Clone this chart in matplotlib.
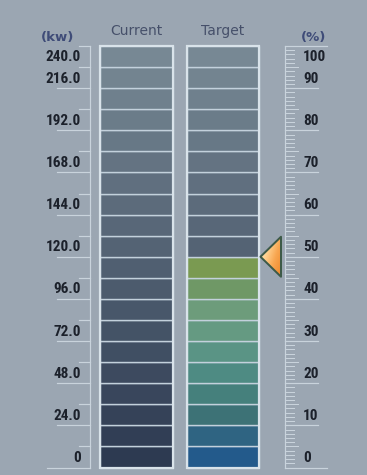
import numpy as np
import matplotlib
matplotlib.use("Agg")
import matplotlib.pyplot as plt
from matplotlib.patches import Rectangle, Polygon
from matplotlib import font_manager
from matplotlib.colors import to_rgb, LinearSegmentedColormap

# ---- data ----
kw_max = 240.0
segment_kw = 12.0
kw_ticks = [0, 24, 48, 72, 96, 120, 144, 168, 192, 216, 240]
kw_labels = ["0", "24.0", "48.0", "72.0", "96.0", "120.0", "144.0",
             "168.0", "192.0", "216.0", "240.0"]
pct_ticks = [0, 10, 20, 30, 40, 50, 60, 70, 80, 90, 100]
pct_labels = ["0", "10", "20", "30", "40", "50", "60", "70", "80", "90", "100"]
columns = ["Current", "Target"]
current_kw = 0.0
target_pct = 50.0

# lit segment colours of the target column, bottom to top
lit_colors = ["#235a8b", "#2f6482", "#3d7276", "#45807c", "#4e8b83",
              "#5a9485", "#659a82", "#6d9c7b", "#6f9866", "#7a9a51"]

# ---- style ----
BG = "#9ba6b2"
FRAME = "#d9e3ea"
SEP = "#c3d1dc"
SCALE = "#c9d3dc"
TXT = "#1c212b"
HEAD = "#46506a"
unlit_lo = np.array(to_rgb("#2d3a51"))
unlit_hi = np.array(to_rgb("#778894"))

names = {f.name for f in font_manager.fontManager.ttflist}
if "Liberation Sans Narrow" in names:
    num_font = dict(family="Liberation Sans Narrow", weight="bold", fontsize=11)
elif "Roboto Condensed" in names:
    num_font = dict(family="Roboto Condensed", weight="bold", fontsize=11)
else:
    num_font = dict(family="DejaVu Sans", stretch="condensed", weight="bold",
                    fontsize=10)

W, H = 367, 475
fig = plt.figure(figsize=(W / 100, H / 100), dpi=100, facecolor=BG)
ax = fig.add_axes([0, 0, 1, 1])
ax.set_facecolor(BG)
ax.axis("off")

y0_px, ytop_px = 467.5, 46.0
K = (y0_px - ytop_px) / kw_max          # pixels per kW
ax.set_xlim(0, W)
ax.set_ylim((y0_px - H) / K, y0_px / K)
px = 1.0 / K                            # one pixel in kW units
lw1 = 0.72                              # one pixel in points

n_seg = int(kw_max / segment_kw)
col_x = {"Current": (100, 173), "Target": (187, 259)}

def unlit(i):
    t = i / (n_seg - 1)
    return unlit_lo + (unlit_hi - unlit_lo) * t

for name in columns:
    x0, x1 = col_x[name]
    colors = []
    for i in range(n_seg):
        if name == "Target" and (i + 1) * 5 <= target_pct:
            colors.append(lit_colors[i])
        elif name == "Current" and (i + 1) * segment_kw <= current_kw:
            colors.append(lit_colors[i])
        else:
            colors.append(unlit(i))
    bottoms = np.arange(n_seg) * segment_kw
    ax.bar([(x0 + x1) / 2] * n_seg, [segment_kw] * n_seg, bottom=bottoms,
           width=x1 - x0, color=colors, edgecolor=SEP, linewidth=1.4 * lw1,
           align="center", zorder=2)
    ax.add_patch(Rectangle((x0, 0), x1 - x0, kw_max, fill=False,
                           edgecolor=FRAME, linewidth=2.2 * lw1, zorder=3))
    ax.text((x0 + x1) / 2, (y0_px - 31) / K, name, ha="center", va="center",
            color=HEAD, fontsize=10, family="DejaVu Sans")

# ---- left kW scale ----
ax.plot([90, 90], [0, kw_max], color=SCALE, lw=1.2 * lw1, zorder=1)
for v in np.arange(0, kw_max + 1, segment_kw):
    if v % 24 == 0 and v < kw_max:
        xs = 47 if v == 0 else 57
    else:
        xs = 79
    ax.plot([xs, 90], [v, v], color=SCALE, lw=1.2 * lw1, zorder=1)
for v, lab in zip(kw_ticks, kw_labels):
    y = (y0_px - 57) / K if v == kw_max else v + 9.5 * px
    ax.text(81, y, lab, ha="right", va="center", color=TXT, **num_font)
ax.text(58, (y0_px - 37) / K, "(kw)", ha="center", va="center",
        color="#3f4c78", fontsize=9.5, weight="bold", family="DejaVu Sans")

# ---- right percent scale ----
P = kw_max / 100.0
ax.plot([285, 285], [0, kw_max], color=SCALE, lw=1.2 * lw1, zorder=1)
for p in range(0, 101):
    if p in (0, 100):
        xe, lw = 327, 1.2
    elif p % 10 == 0:
        xe, lw = 318, 1.2
    elif p % 5 == 0:
        xe, lw = 298, 1.0
    else:
        xe, lw = 294, 1.0
    ax.plot([285, xe], [p * P, p * P], color=SCALE, lw=lw * lw1, zorder=1)
for p, lab in zip(pct_ticks, pct_labels):
    y = (y0_px - 57) / K if p == 100 else p * P + 9.5 * px
    ax.text(303, y, lab, ha="left", va="center", color=TXT, **num_font)
ax.text(314, (y0_px - 37) / K, "(%)", ha="center", va="center",
        color="#3f4c78", fontsize=9.5, weight="bold", family="DejaVu Sans")

# ---- target marker ----
ty = target_pct * P
tri = Polygon([[260.5, ty], [281, ty + 20 * px], [281, ty - 20 * px]],
              closed=True, facecolor="none", edgecolor="#3d5a48",
              linewidth=2.0 * lw1, joinstyle="round", zorder=6)
ax.add_patch(tri)
cmap = LinearSegmentedColormap.from_list(
    "marker", ["#fff3cc", "#ffd08e", "#f8a650", "#f08c30"])
gx, gy = np.meshgrid(np.linspace(0, 1, 60), np.linspace(0, 1, 60))
grad = np.clip(0.7 * gx + 0.45 * gy - 0.05, 0, 1)
im = ax.imshow(grad, cmap=cmap, extent=(260.5, 281, ty - 20 * px, ty + 20 * px),
               origin="upper", aspect="auto", zorder=5, interpolation="bilinear")
im.set_clip_path(tri)

fig.savefig("out.png", dpi=100, facecolor=BG)
